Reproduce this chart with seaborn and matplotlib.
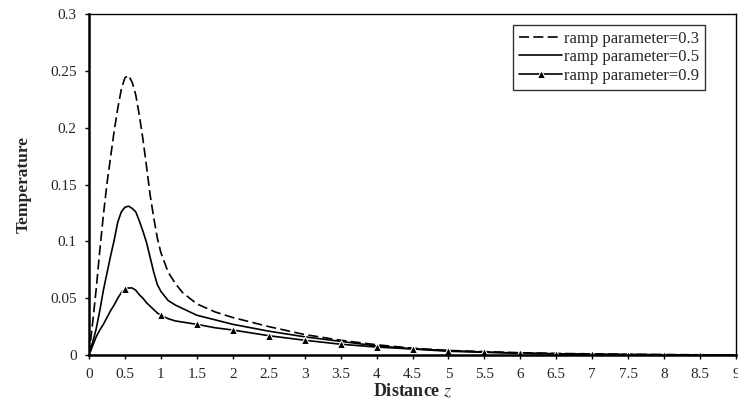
import numpy as np
import pandas as pd
import matplotlib
matplotlib.use("Agg")
import matplotlib.pyplot as plt
import seaborn as sns

sns.set_style("ticks")
plt.rcParams['font.family'] = ['Liberation Serif', 'DejaVu Serif']
plt.rcParams['mathtext.fontset'] = 'stix'

# distance values
z = [0, 0.05, 0.1, 0.15, 0.2, 0.25, 0.3, 0.35, 0.4, 0.45, 0.5, 0.55, 0.6,
     0.65, 0.7, 0.75, 0.8, 0.85, 0.9, 0.95, 1.0, 1.1, 1.2, 1.3, 1.4, 1.5,
     1.75, 2, 2.5, 3, 3.5, 4, 4.5, 5, 5.5, 6, 6.5, 7, 7.5, 8, 8.5, 9]
temp_03 = [0, 0.028, 0.058, 0.092, 0.123, 0.151, 0.174, 0.197, 0.217, 0.234,
           0.244, 0.246, 0.240, 0.229, 0.211, 0.190, 0.166, 0.141, 0.121,
           0.103, 0.090, 0.073, 0.063, 0.055, 0.050, 0.045, 0.038, 0.033,
           0.025, 0.018, 0.013, 0.009, 0.006, 0.004, 0.003, 0.002, 0.0014,
           0.001, 0.0006, 0.0004, 0.0002, 0.0001]
temp_05 = [0, 0.011, 0.023, 0.039, 0.057, 0.072, 0.087, 0.101, 0.117, 0.126,
           0.130, 0.131, 0.129, 0.126, 0.118, 0.109, 0.099, 0.086, 0.073,
           0.062, 0.056, 0.048, 0.044, 0.041, 0.038, 0.035, 0.031, 0.027,
           0.021, 0.016, 0.012, 0.008, 0.0055, 0.0038, 0.0026, 0.0017,
           0.0011, 0.0007, 0.0004, 0.0002, 0.0001, 0]
temp_09 = [0, 0.008, 0.016, 0.022, 0.027, 0.033, 0.039, 0.044, 0.050, 0.055,
           0.058, 0.059, 0.059, 0.057, 0.053, 0.050, 0.046, 0.043, 0.040,
           0.037, 0.035, 0.032, 0.030, 0.029, 0.028, 0.027, 0.024, 0.022,
           0.017, 0.013, 0.0095, 0.007, 0.0053, 0.0033, 0.0024, 0.0016,
           0.001, 0.0006, 0.0004, 0.0002, 0.0001, 0]
labels = ['ramp parameter=0.3', 'ramp parameter=0.5', 'ramp parameter=0.9']

df = pd.DataFrame({'z': z, 'a': temp_03, 'b': temp_05, 'c': temp_09})
# triangles only on the half-unit grid
marks = [i for i, v in enumerate(z) if abs(v * 2 - round(v * 2)) < 1e-9]

fig = plt.figure(figsize=(7.38, 4.13), dpi=100)
ax = fig.add_axes([0.1206, 0.1404, 0.8767, 0.8256])

sns.lineplot(data=df, x='z', y='a', ax=ax, color='black', lw=1.2,
             label=labels[0]).lines[-1].set_dashes([6, 2.6])
sns.lineplot(data=df, x='z', y='b', ax=ax, color='black', lw=1.2,
             label=labels[1])
sns.lineplot(data=df, x='z', y='c', ax=ax, color='black', lw=1.2,
             marker='^', markersize=6, markevery=marks, label=labels[2])

ax.set_xlim(0, 9)
ax.set_ylim(0, 0.3)
ax.set_xticks(np.arange(0, 9.01, 0.5))
ax.set_xticklabels(['%g' % t for t in np.arange(0, 9.01, 0.5)])
ax.set_yticks(np.arange(0, 0.301, 0.05))
ax.set_yticklabels(['%g' % round(t, 2) for t in np.arange(0, 0.301, 0.05)])
ax.tick_params(labelsize=11, length=3, width=1, color='black', pad=6)

for side in ['left', 'bottom']:
    ax.spines[side].set_linewidth(1.8)
for side in ['top', 'right']:
    ax.spines[side].set_linewidth(1.0)
for s in ax.spines.values():
    s.set_color('black')

ax.set_xlabel(r'Distance $z$', fontsize=13, fontweight='bold', labelpad=1)
ax.set_ylabel('Temperature', fontsize=12.5, fontweight='bold', labelpad=13)

leg = ax.legend(loc='upper right', bbox_to_anchor=(0.952, 0.968), fontsize=12,
                frameon=True, fancybox=False, handlelength=2.6,
                handletextpad=0.1, borderpad=0.35, labelspacing=0.15,
                borderaxespad=0)
leg.get_frame().set_edgecolor('black')
leg.get_frame().set_linewidth(1.0)

fig.savefig('out.png', dpi=100)
